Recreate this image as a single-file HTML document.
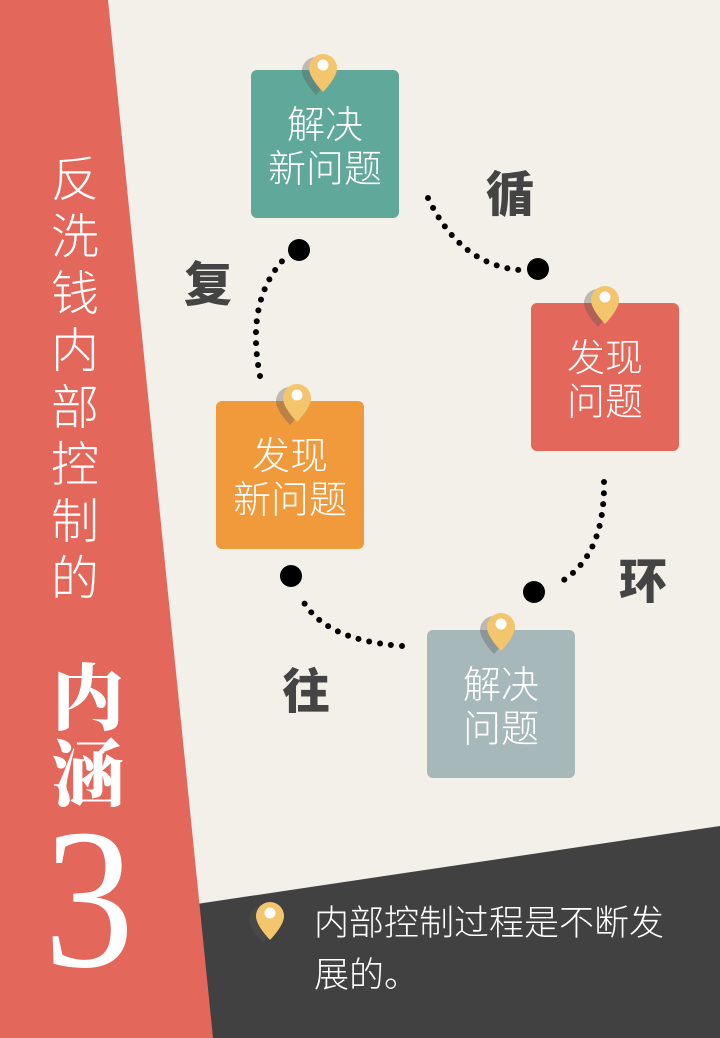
<!DOCTYPE html>
<html><head><meta charset="utf-8"><style>
body{margin:0;width:720px;height:1038px;overflow:hidden;background:#f3efe9;font-family:"Liberation Sans","Noto Sans CJK SC",sans-serif}
.card{position:absolute;width:148px;height:148px;border-radius:6px;color:#fff;font-size:38px;font-weight:300;line-height:44px;text-align:center;display:flex;align-items:center;justify-content:center;padding-top:8px;box-sizing:border-box}
.lbl{position:absolute;font-family:"Noto Sans CJK SC",sans-serif;font-weight:900;font-size:48px;color:#444;line-height:1}
</style></head><body>
<svg width="720" height="1038" style="position:absolute;left:0;top:0">
<polygon points="190,905 720,826 720,1038 195,1038" fill="#414141"/>
<polygon points="0,0 108,0 213,1038 0,1038" fill="#e4675b"/>
<g fill="none" stroke="#000" stroke-width="6" stroke-linecap="round" stroke-dasharray="0 11">
<path d="M428,198 Q460,265 520,270"/>
<path d="M604,482 Q605,560 555,585"/>
<path d="M402,646 Q320,640 300,595"/>
<path d="M260,376 Q245,300 285,258"/>
</g>
<g fill="#000"><circle cx="538" cy="269" r="11"/><circle cx="534" cy="592" r="11"/><circle cx="291" cy="576" r="11"/><circle cx="299" cy="250" r="11"/></g>
</svg>
<div class="card" style="left:251px;top:70px;background:#5fa89a">解决<br>新问题</div>
<div class="card" style="left:531px;top:303px;background:#e4675b">发现<br>问题</div>
<div class="card" style="left:216px;top:401px;background:#f09a3c">发现<br>新问题</div>
<div class="card" style="left:427px;top:630px;background:#a7b8bb">解决<br>问题</div>
<svg width="720" height="1038" style="position:absolute;left:0;top:0">
<defs><g id="pin"><path d="M-14,0 a14,14 0 1,1 28,0 q0,9 -14,24 q-14,-15 -14,-24z" fill="#555" fill-opacity="0.35" transform="translate(-7,3)"/><path d="M-14,0 a14,14 0 1,1 28,0 q0,9 -14,24 q-14,-15 -14,-24z" fill="#f3c56d"/><circle cx="0" cy="-3" r="5.5" fill="#fff"/></g></defs>
<use href="#pin" x="323" y="68"/>
<use href="#pin" x="605" y="300"/>
<use href="#pin" x="297" y="398"/>
<use href="#pin" x="501" y="627"/>
<use href="#pin" x="270" y="916"/>
</svg>
<div class="lbl" style="left:486px;top:166px">循</div>
<div class="lbl" style="left:184px;top:256px">复</div>
<div class="lbl" style="left:619px;top:553px">环</div>
<div class="lbl" style="left:282px;top:663px">往</div>
<div style="position:absolute;left:50px;top:152px;width:50px;color:#fff;font-size:48px;font-weight:300;line-height:57px;text-align:center">反洗钱内部控制的</div>
<div style="position:absolute;left:50px;top:655px;width:76px;color:#fff;font-family:'Noto Serif CJK SC',serif;font-weight:900;font-size:72px;line-height:76px;text-align:center">内涵</div>
<div style="position:absolute;left:44px;top:800px;color:#fff;font-family:'Liberation Serif',serif;font-size:200px;line-height:200px;transform:scaleX(0.9);transform-origin:left">3</div>
<div style="position:absolute;left:314px;top:898px;width:380px;color:#fff;font-size:35px;font-weight:300;line-height:52px">内部控制过程是不断发展的。</div>
</body></html>
